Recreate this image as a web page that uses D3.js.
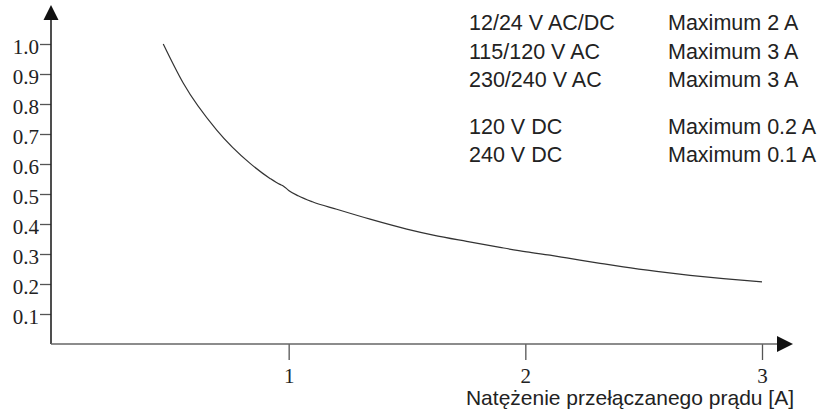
<!DOCTYPE html>
<html>
<head>
<meta charset="utf-8">
<script src="https://cdn.jsdelivr.net/npm/d3@7"></script>
<style>
  body { margin: 0; background: #fff; }
  svg { display: block; }
</style>
</head>
<body>
<div id="chart"></div>
<script>
(function(){

    // data
    var currentA = [0.47, 0.555, 0.696, 0.837, 0.921, 0.963, 0.977, 1.0, 1.04, 1.1, 1.203, 1.344, 1.499,
                    1.611, 1.752, 1.893, 2.006, 2.104, 2.175, 2.316, 2.414, 2.555, 2.696, 2.837, 3.0];
    var factor   = [1.0, 0.869, 0.713, 0.602, 0.552, 0.532, 0.527, 0.512, 0.494, 0.474, 0.449, 0.416, 0.383,
                    0.363, 0.342, 0.322, 0.307, 0.296, 0.287, 0.269, 0.257, 0.242, 0.229, 0.218, 0.207];
    var yTicks = [0.1, 0.2, 0.3, 0.4, 0.5, 0.6, 0.7, 0.8, 0.9, 1.0];
    var xTicks = [1, 2, 3];
    var voltages = ["12/24 V AC/DC", "115/120 V AC", "230/240 V AC", "120 V DC", "240 V DC"];
    var limits   = ["Maximum 2 A", "Maximum 3 A", "Maximum 3 A", "Maximum 0.2 A", "Maximum 0.1 A"];
    var xTitle = "Natężenie przełączanego prądu [A]";

    var width = 825;
    var height = 413;
    var svg = d3.select("#chart").append("svg")
        .attr("width", width)
        .attr("height", height);

    var x = d3.scaleLinear().domain([0, 3]).range([52, 762]);
    var y = d3.scaleLinear().domain([0, 1]).range([344, 44]);

    var serif = "'Liberation Serif', 'Times New Roman', serif";
    var sans = "'Liberation Sans', Arial, sans-serif";

    //Y axis
    var yAxis = svg.append("g")
        .attr("transform", "translate(" + 51 + ",0)")
        .call(d3.axisLeft(y).tickValues(yTicks).tickSize(11).tickPadding(1)
            .tickFormat(d3.format(".1f")));
    yAxis.select(".domain").remove();
    yAxis.selectAll(".tick line").attr("stroke", "#555").attr("stroke-width", 1.3);
    yAxis.selectAll(".tick text")
        .attr("font-family", serif)
        .attr("font-size", "21px")
        .attr("fill", "#222")
        .attr("dy", "0.45em");

    //X axis
    var xAxis = svg.append("g")
        .attr("transform", "translate(0," + 344 + ")")
        .call(d3.axisBottom(x).tickValues(xTicks).tickSize(16).tickPadding(8)
            .tickFormat(d3.format("d")));
    xAxis.select(".domain").remove();
    xAxis.selectAll(".tick line").attr("stroke", "#555").attr("stroke-width", 1.3);
    xAxis.selectAll(".tick text")
        .attr("font-family", serif)
        .attr("font-size", "21px")
        .attr("fill", "#222");

    //axis lines with arrows
    svg.append("line")
        .attr("x1", 51).attr("y1", 344).attr("x2", 51).attr("y2", 19)
        .attr("stroke", "#222").attr("stroke-width", 1.6);
    svg.append("path")
        .attr("d", "M51,5 L43.5,20 L58.5,20 Z")
        .attr("fill", "#111");
    svg.append("line")
        .attr("x1", 51).attr("y1", 344).attr("x2", 778).attr("y2", 344)
        .attr("stroke", "#666").attr("stroke-width", 1.6);
    svg.append("path")
        .attr("d", "M793,344 L777,336 L777,352 Z")
        .attr("fill", "#111");

    //curve
    var line = d3.line()
        .x(function(d, i){ return x(currentA[i]); })
        .y(function(d, i){ return y(factor[i]); })
        .curve(d3.curveMonotoneX);
    svg.append("path")
        .datum(factor)
        .attr("d", line)
        .attr("fill", "none")
        .attr("stroke", "#333")
        .attr("stroke-width", 1.2);

    //x title
    svg.append("text")
        .attr("x", 794)
        .attr("y", 405)
        .attr("text-anchor", "end")
        .attr("font-family", sans)
        .attr("font-size", "21px")
        .attr("fill", "#222")
        .text(xTitle);

    //legend
    var rowY = [30, 59, 87, 134, 162];
    var legend = svg.append("g");
    legend.selectAll("text.volt")
        .data(voltages).enter().append("text")
        .attr("class", "volt")
        .attr("x", 469)
        .attr("y", function(d, i){ return rowY[i]; })
        .attr("font-family", sans)
        .attr("font-size", "21.5px")
        .attr("fill", "#222")
        .text(function(d){ return d; });
    legend.selectAll("text.lim")
        .data(limits).enter().append("text")
        .attr("class", "lim")
        .attr("x", 668)
        .attr("y", function(d, i){ return rowY[i]; })
        .attr("font-family", sans)
        .attr("font-size", "21.5px")
        .attr("fill", "#222")
        .text(function(d){ return d; });

})();
</script>
</body>
</html>
